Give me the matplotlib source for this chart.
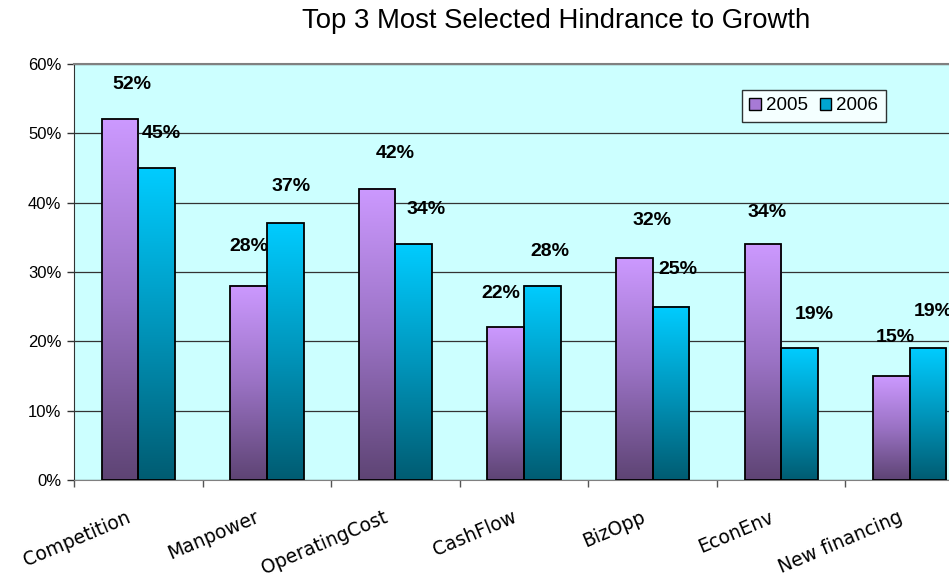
import numpy as np
import matplotlib
matplotlib.use('Agg')
import matplotlib.pyplot as plt
from matplotlib.colors import LinearSegmentedColormap
from matplotlib.patches import Patch
from matplotlib.ticker import FuncFormatter
import matplotlib.transforms as mtransforms

# Data
categories = ['Competition', 'Manpower', 'OperatingCost', 'CashFlow',
              'BizOpp', 'EconEnv', 'New financing']
values_2005 = [52, 28, 42, 22, 32, 34, 15]
values_2006 = [45, 37, 34, 28, 25, 19, 19]
series_names = ['2005', '2006']

# label offsets (pixels) from top centre of each bar, as Excel placed them
offsets_2005 = [(12, 35), (0, 39), (18, 35), (-5, 34), (18, 38), (4, 32), (4, 39)]
offsets_2006 = [(5, 34), (6, 37), (12, 35), (8, 34), (7, 37), (15, 34), (5, 37)]

plt.rcParams['font.family'] = ['Liberation Sans', 'DejaVu Sans']

fig = plt.figure(figsize=(9.49, 5.81), dpi=100)
ax = fig.add_axes([74 / 949, 1 - 480 / 581, 900 / 949, 416 / 581])
ax.set_facecolor('#CCFFFF')

cmap_2005 = LinearSegmentedColormap.from_list('p', ['#5E4474', '#9A72C4', '#CC99FF'])
cmap_2006 = LinearSegmentedColormap.from_list('c', ['#005C72', '#0096BC', '#00CCFF'])

x = np.arange(len(categories))
w = 0.285
grad = np.linspace(0, 1, 256).reshape(-1, 1)

for vals, shift, cmap in [(values_2005, -w / 2, cmap_2005), (values_2006, w / 2, cmap_2006)]:
    bars = ax.bar(x + shift, np.array(vals) / 100, w, facecolor='none',
                  edgecolor='black', linewidth=1.3, zorder=4)
    for b in bars:
        x0, h = b.get_x(), b.get_height()
        ax.imshow(grad, cmap=cmap, extent=[x0, x0 + w, 0, h], origin='lower',
                  aspect='auto', zorder=3, interpolation='bilinear')

for vals, shift, offs in [(values_2005, -w / 2, offsets_2005), (values_2006, w / 2, offsets_2006)]:
    for i, v in enumerate(vals):
        ax.annotate(f'{v}%', (i + shift, v / 100), xytext=offs[i],
                    textcoords='offset pixels', ha='center', va='center',
                    fontsize=14, fontweight='bold', zorder=5)

ax.set_xlim(-0.5, len(categories) - 0.5)
ax.set_ylim(0, 0.6)
ax.set_yticks(np.arange(0, 0.61, 0.1))
ax.yaxis.set_major_formatter(FuncFormatter(lambda v, p: f'{round(v * 100)}%'))
ax.tick_params(axis='y', labelsize=12, length=5, width=1, color='#333333', pad=4)
ax.grid(axis='y', color='#333333', linewidth=0.9, zorder=1)
ax.set_axisbelow(True)

ax.set_xticks(x)
ax.set_xticks(np.arange(-0.5, len(categories), 1), minor=True)
ax.set_xticklabels(categories)
ax.tick_params(axis='x', which='major', length=0, labelsize=13.5)
ax.tick_params(axis='x', which='minor', length=5, width=1, color='#555555')
shift_tr = mtransforms.ScaledTranslation(-12 / 100, -23 / 100, fig.dpi_scale_trans)
for lab in ax.get_xticklabels():
    lab.set_family('DejaVu Sans')
    lab.set_rotation(23)
    lab.set_ha('right')
    lab.set_va('top')
    lab.set_rotation_mode('anchor')
    lab.set_transform(lab.get_transform() + shift_tr)

ax.spines['top'].set_color('#808080')
ax.spines['top'].set_linewidth(1.5)
ax.spines['left'].set_color('#333333')
ax.spines['bottom'].set_color('#808080')
ax.spines['right'].set_visible(False)

handles = [Patch(facecolor='#A77AD6', edgecolor='black', label=series_names[0]),
           Patch(facecolor='#00A6D2', edgecolor='black', label=series_names[1])]
leg = ax.legend(handles=handles, loc='upper left', bbox_to_anchor=(668 / 900, 1 - 26 / 416),
                ncol=2, fontsize=13.5, frameon=True, fancybox=False, edgecolor='black',
                handlelength=0.6, handleheight=0.6, handletextpad=0.3, columnspacing=0.6,
                borderpad=0.4, borderaxespad=0)
leg.get_frame().set_linewidth(1)

fig.text(556 / 949, 1 - 28.5 / 581, 'Top 3 Most Selected Hindrance to Growth',
         ha='center', va='baseline', fontsize=19.8)

fig.savefig('out.png', dpi=100)
